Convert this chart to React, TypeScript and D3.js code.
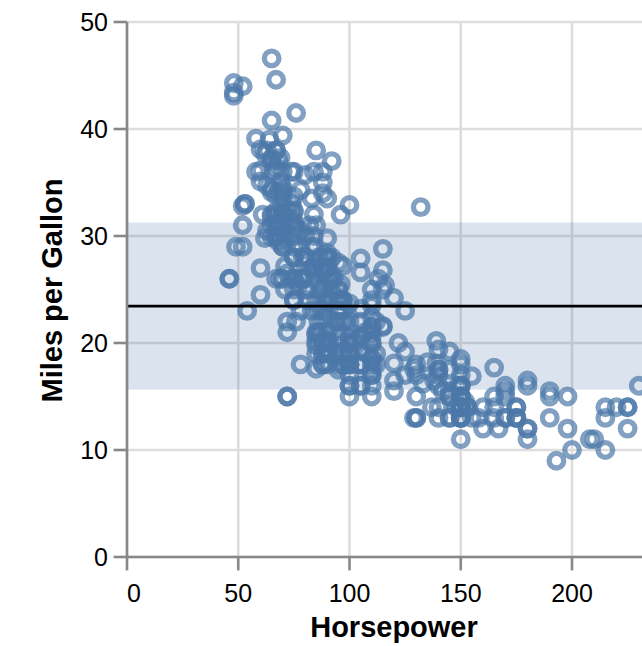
import React, { useRef, useEffect } from "react";
import * as d3 from "d3";

// cars: horsepower / miles per gallon (rows without horsepower dropped)
const horsepower = [
  130, 165, 150, 150, 140, 198, 220, 215, 225, 190, 170, 160, 150, 225, 95, 95, 97, 85, 88, 46, 87, 90, 95, 113, 90, 215, 200, 210, 193,
  88, 90, 95, 100, 105, 100, 88, 100, 165, 175, 153, 150, 180, 170, 175, 110, 72, 100, 88, 86, 90, 70, 76, 65, 69, 60, 70,
  95, 80, 54, 90, 86, 165, 175, 150, 153, 150, 208, 155, 160, 190, 97, 150, 130, 140, 150, 112, 76, 87, 69, 86, 92, 97, 80, 88,
  175, 150, 145, 137, 150, 198, 150, 158, 150, 215, 225, 175, 105, 100, 100, 88, 95, 46, 150, 167, 170, 180, 100, 88, 72, 94, 90, 85, 107, 90, 145, 230, 49, 75, 91, 112, 150, 110, 122, 180, 95, 100, 100, 67, 80, 65, 75,
  100, 110, 105, 140, 150, 150, 140, 150, 83, 67, 78, 52, 61, 75, 75, 75, 97, 93, 67,
  95, 105, 72, 72, 170, 145, 150, 148, 110, 105, 110, 95, 110, 110, 129, 75, 83, 100, 78, 96, 71, 97, 97, 70, 90, 95, 88, 98, 115, 53,
  86, 81, 92, 79, 83, 140, 150, 120, 152, 100, 105, 81, 90, 52, 60, 70, 53, 100, 78, 110, 95, 71, 70, 75, 72, 102, 150, 88, 108, 120, 180, 145, 130, 150,
  68, 80, 58, 96, 70, 145, 110, 145, 130, 110, 105, 100, 98, 180, 170, 190, 149, 78, 88, 75, 89, 63, 83, 67, 78, 97, 110, 110,
  48, 66, 52, 70, 60, 110, 140, 139, 105, 95, 85, 88, 100, 90, 105, 85, 110, 120, 145, 165, 139, 140, 68, 95, 97, 75, 95, 105, 85, 97, 103, 125, 115, 133, 71, 68,
  115, 85, 88, 90, 110, 130, 129, 138, 135, 155, 142, 125, 150, 71, 65, 80, 80, 77, 125, 71, 90, 70, 70, 65, 69, 90, 115, 115, 90,
  76, 60, 70, 65, 90, 88, 90, 90, 78, 90, 75, 92, 75, 65, 105, 65, 48, 48, 67, 67, 67, 67, 62, 132, 100, 88, 72,
  84, 84, 92, 110, 84, 58, 64, 60, 67, 65, 62, 68, 63, 65, 65, 74, 75, 75, 100, 74, 80, 76, 116, 120, 110, 105, 88, 85,
  88, 88, 88, 85, 84, 90, 92, 74, 68, 68, 63, 70, 88, 75, 70, 67, 67, 67, 110, 85, 92, 112, 96, 84, 90, 86, 52, 84, 79, 82,
];

const milesPerGallon = [
  18, 15, 18, 16, 17, 15, 14, 14, 14, 15, 15, 14, 15, 14, 24, 22, 18, 21, 27, 26, 25, 24, 25, 26, 21, 10, 10, 11, 9,
  27, 28, 25, 19, 16, 17, 19, 18, 14, 14, 14, 14, 12, 13, 13, 18, 22, 19, 18, 23, 28, 30, 30, 31, 35, 27, 26,
  24, 25, 23, 20, 21, 13, 14, 15, 14, 17, 11, 13, 12, 13, 19, 15, 13, 13, 14, 18, 22, 21, 26, 22, 28, 23, 28, 27,
  13, 14, 13, 14, 15, 12, 13, 13, 14, 13, 12, 13, 18, 16, 18, 18, 23, 26, 11, 12, 13, 12, 18, 20, 21, 22, 18, 19, 21, 26, 15, 16, 29, 24, 20, 19, 15, 24, 20, 11, 20, 19, 15, 31, 26, 32, 25,
  16, 16, 18, 16, 13, 14, 14, 14, 29, 26, 26, 31, 32, 28, 24, 26, 24, 26, 31,
  19, 18, 15, 15, 16, 15, 16, 14, 17, 16, 15, 18, 21, 20, 13, 29, 23, 20, 23, 24, 25, 24, 18, 29, 19, 23, 23, 22, 25, 33,
  28, 25, 25, 26, 27, 17.5, 16, 15.5, 14.5, 22, 22, 24, 22.5, 29, 24.5, 29, 33, 20, 18, 18.5, 17.5, 29.5, 32, 28, 26.5, 20, 13, 19, 19, 16.5, 16.5, 13, 13, 13,
  31.5, 30, 36, 25.5, 33.5, 17.5, 17, 15.5, 15, 17.5, 20.5, 19, 18.5, 16, 15.5, 15.5, 16, 29, 24.5, 26, 25.5, 30.5, 33.5, 30, 30.5, 22, 21.5, 21.5,
  43.1, 36.1, 32.8, 39.4, 36.1, 19.9, 19.4, 20.2, 19.2, 20.5, 20.2, 25.1, 20.5, 19.4, 20.6, 20.8, 18.6, 18.1, 19.2, 17.7, 18.1, 17.5, 30, 27.5, 27.2, 30.9, 21.1, 23.2, 23.8, 23.9, 20.3, 17, 21.6, 16.2, 31.5, 29.5,
  21.5, 19.8, 22.3, 20.2, 20.6, 17, 17.6, 16.5, 18.2, 16.9, 15.5, 19.2, 18.5, 31.9, 34.1, 35.7, 27.4, 25.4, 23, 27.2, 23.9, 34.2, 34.5, 31.8, 37.3, 28.4, 28.8, 26.8, 33.5,
  41.5, 38.1, 32.1, 37.2, 28, 26.4, 24.3, 19.1, 34.3, 29.8, 31.3, 37, 32.2, 46.6, 27.9, 40.8, 44.3, 43.4, 36.4, 30, 44.6, 33.8, 29.8, 32.7, 23.7, 35, 32.4,
  27.2, 26.6, 25.8, 23.5, 30, 39.1, 39, 35.1, 32.3, 37, 37.7, 34.1, 34.7, 34.4, 29.9, 33, 33.7, 32.4, 32.9, 31.6, 28.1, 30.7, 25.4, 24.2, 22.4, 26.6, 20.2, 17.6,
  28, 27, 34, 31, 29, 27, 24, 36, 37, 31, 38, 36, 36, 36, 34, 38, 32, 38, 25, 38, 26, 22, 32, 36, 27, 27, 44, 32, 28, 31,
];

const xTicks = [0, 50, 100, 150, 200];
const yTicks = [0, 10, 20, 30, 40, 50];

const Chart = () => {
  const svgRef = useRef(null);

  useEffect(() => {
    const width = 642;
    const height = 646;
    const svg = d3.select(svgRef.current);
    svg.selectAll("*").remove();
    svg.attr("width", width).attr("height", height);

    const left = 127;
    const top = 22;
    const plotW = 534;
    const plotH = 535;
    const font = "'Liberation Sans', Arial, Helvetica, sans-serif";
    const axisColor = "#888";
    const sw = 2.6;

    const x = d3.scaleLinear().domain([0, 240]).range([left, left + plotW]);
    const y = d3.scaleLinear().domain([0, 50]).range([top + plotH, top]);

    const data = horsepower.map((h, i) => ({ hp: h, mpg: milesPerGallon[i] }));
    const mean = d3.mean(milesPerGallon);
    const sd = d3.deviation(milesPerGallon);

    // grid
    const grid = svg.append("g");
    grid
      .selectAll("line.gx")
      .data(xTicks)
      .enter()
      .append("line")
      .attr("x1", (d) => x(d))
      .attr("x2", (d) => x(d))
      .attr("y1", top)
      .attr("y2", top + plotH)
      .attr("stroke", "#ddd")
      .attr("stroke-width", sw);
    grid
      .selectAll("line.gy")
      .data(yTicks)
      .enter()
      .append("line")
      .attr("x1", left)
      .attr("x2", left + plotW)
      .attr("y1", (d) => y(d))
      .attr("y2", (d) => y(d))
      .attr("stroke", "#ddd")
      .attr("stroke-width", sw);

    // points
    svg
      .append("g")
      .selectAll("circle")
      .data(data)
      .enter()
      .append("circle")
      .attr("cx", (d) => x(d.hp))
      .attr("cy", (d) => y(d.mpg))
      .attr("r", 7.3)
      .attr("fill", "none")
      .attr("stroke", "#4c78a8")
      .attr("stroke-width", 5.3)
      .attr("opacity", 0.7);

    // +/- 1 sd band
    svg
      .append("rect")
      .attr("x", left)
      .attr("width", plotW)
      .attr("y", y(mean + sd))
      .attr("height", y(mean - sd) - y(mean + sd))
      .attr("fill", "#4c78a8")
      .attr("opacity", 0.2);

    // mean rule
    svg
      .append("line")
      .attr("x1", left)
      .attr("x2", left + plotW)
      .attr("y1", y(mean))
      .attr("y2", y(mean))
      .attr("stroke", "black")
      .attr("stroke-width", sw);

    // x axis
    const xa = svg.append("g");
    xa.append("line")
      .attr("x1", left)
      .attr("x2", left + plotW)
      .attr("y1", top + plotH)
      .attr("y2", top + plotH)
      .attr("stroke", axisColor)
      .attr("stroke-width", sw);
    xa.selectAll("line.t")
      .data(xTicks)
      .enter()
      .append("line")
      .attr("x1", (d) => x(d))
      .attr("x2", (d) => x(d))
      .attr("y1", top + plotH)
      .attr("y2", top + plotH + 13.4)
      .attr("stroke", axisColor)
      .attr("stroke-width", sw);
    xa.selectAll("text")
      .data(xTicks)
      .enter()
      .append("text")
      .text((d) => d)
      .attr("x", (d) => x(d))
      .attr("y", 601.5)
      .attr("text-anchor", (d) => (d === 0 ? "start" : "middle"))
      .style("font-family", font)
      .style("font-size", "25px")
      .attr("fill", "#000");
    svg
      .append("text")
      .text("Horsepower")
      .attr("x", left + plotW / 2)
      .attr("y", 637)
      .attr("text-anchor", "middle")
      .style("font-family", font)
      .style("font-size", "29px")
      .style("font-weight", "bold");

    // y axis
    const ya = svg.append("g");
    ya.append("line")
      .attr("x1", left)
      .attr("x2", left)
      .attr("y1", top)
      .attr("y2", top + plotH)
      .attr("stroke", axisColor)
      .attr("stroke-width", sw);
    ya.selectAll("line.t")
      .data(yTicks)
      .enter()
      .append("line")
      .attr("x1", left - 13.4)
      .attr("x2", left)
      .attr("y1", (d) => y(d))
      .attr("y2", (d) => y(d))
      .attr("stroke", axisColor)
      .attr("stroke-width", sw);
    ya.selectAll("text")
      .data(yTicks)
      .enter()
      .append("text")
      .text((d) => d)
      .attr("x", 108)
      .attr("y", (d) => y(d) + 9)
      .attr("text-anchor", "end")
      .style("font-family", font)
      .style("font-size", "25px")
      .attr("fill", "#000");
    svg
      .append("text")
      .text("Miles per Gallon")
      .attr("transform", `translate(62, ${top + plotH / 2 + 1}) rotate(-90)`)
      .attr("text-anchor", "middle")
      .style("font-family", font)
      .style("font-size", "29px")
      .style("font-weight", "bold");
  }, []);

  return (
    <svg
      ref={svgRef}
      style={{ position: "absolute", left: 0, top: 0, display: "block" }}
    ></svg>
  );
};

export default function App() {
  return <Chart />;
}
